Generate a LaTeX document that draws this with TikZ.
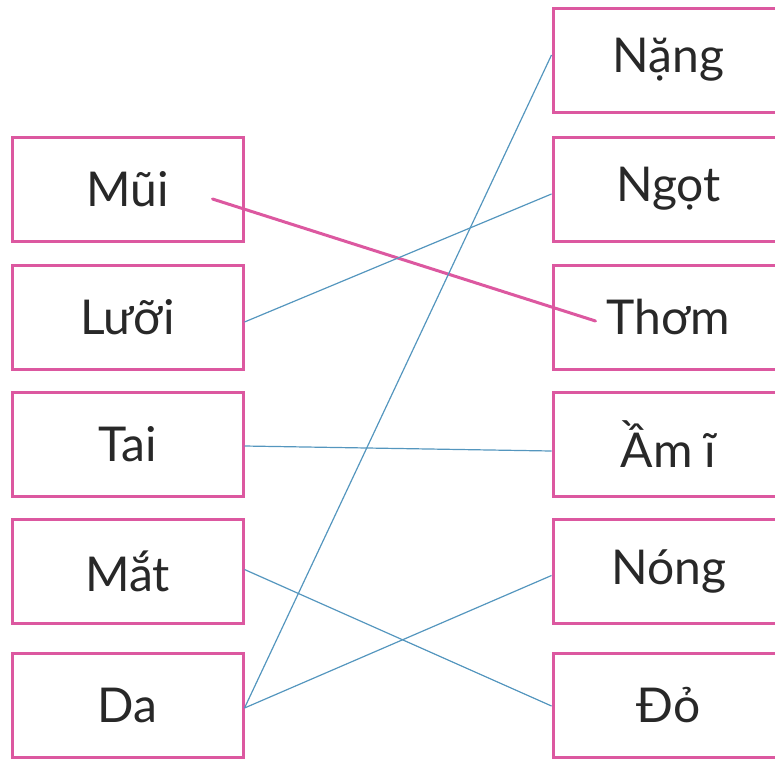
\documentclass[tikz,border=0pt]{standalone}
\usepackage{fontspec}
\setmainfont{Lato}
\usetikzlibrary{calc}
\definecolor{boxpink}{RGB}{220,88,160}
\definecolor{linkblue}{RGB}{84,150,190}
\definecolor{txtgray}{RGB}{40,40,40}
\tikzset{
  wordbox/.style={draw=boxpink, line width=3pt, minimum width=231pt, minimum height=104pt,
    inner sep=0pt, text=txtgray, font=\fontsize{48}{52}\selectfont},
  link/.style={draw=linkblue, line width=1.2pt},
  answer/.style={draw=boxpink, line width=3pt, line cap=round}
}
\begin{document}
\begin{tikzpicture}[x=1pt,y=-1pt]
\useasboundingbox (0,0) rectangle (775,763);
% left column
\node[wordbox] (mui)  at (127.5,189)   {Mũi};
\node[wordbox] (luoi) at (127.5,317)   {Lưỡi};
\node[wordbox] (tai)  at (127.5,444)   {Tai};
\node[wordbox] (mat)  at (127.5,571.5) {Mắt};
\node[wordbox] (da)   at (127.5,705)   {Da};
% right column
\node[wordbox] (nang) at (668.5,60)    {Nặng};
\node[wordbox] (ngot) at (668.5,189)   {Ngọt};
\node[wordbox] (thom) at (668.5,317)   {Thơm};
\node[wordbox] (amy)  at (668.5,444)   {Ầm ĩ};
\node[wordbox] (nong) at (668.5,571.5) {Nóng};
\node[wordbox] (do)   at (668.5,705)   {Đỏ};
% answer line
\coordinate (muiend)  at ($(mui.center)+(85,10)$);
\coordinate (thomend) at ($(thom.west)+(44,4)$);
\draw[answer] (muiend) -- (thomend);
% connectors
\draw[link] ($(luoi.east)+(0,5)$) -- ($(ngot.west)+(0,5)$);
\draw[link] ($(tai.east)+(0,2)$) -- ($(amy.west)+(0,7)$);
\draw[link] ($(mat.east)+(0,-2)$) -- ($(do.west)+(0,1)$);
\draw[link] ($(da.east)+(0,3)$) -- ($(nang.west)+(0,-5)$);
\draw[link] ($(da.east)+(0,3)$) -- ($(nong.west)+(0,4)$);
\end{tikzpicture}
\end{document}
